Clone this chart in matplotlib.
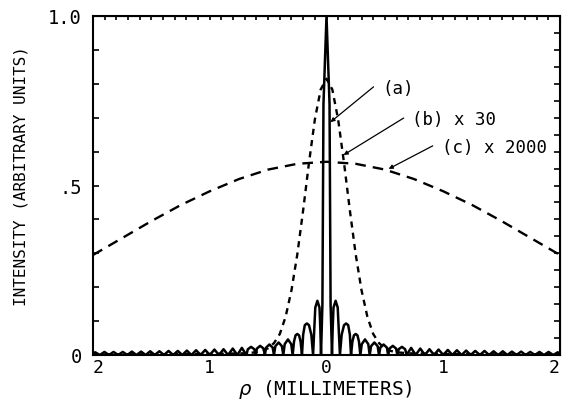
import numpy as np
import matplotlib
matplotlib.use("Agg")
import matplotlib.pyplot as plt

# Curve (a): for rho >= 0 (the plot is symmetric)
rho_a_half = [0.000, 0.010, 0.026, 0.031, 0.035, 0.047,
              0.053, 0.060, 0.078, 0.096, 0.104, 0.115,
              0.130, 0.150, 0.168, 0.186, 0.200, 0.210,
              0.222, 0.235, 0.250, 0.265, 0.278, 0.290,
              0.302, 0.330, 0.358, 0.370,
              0.382, 0.410, 0.438, 0.450,
              0.461, 0.489, 0.517, 0.528,
              0.539, 0.568, 0.596, 0.607,
              0.618, 0.646, 0.674, 0.686,
              0.725, 0.764, 0.803, 0.843, 0.882, 0.921, 0.960, 1.000,
              1.039, 1.078, 1.117, 1.157, 1.196, 1.235, 1.274, 1.314,
              1.353, 1.392, 1.431, 1.471, 1.510, 1.549, 1.588, 1.628,
              1.667, 1.706, 1.745, 1.785, 1.824, 1.863, 1.902, 1.942,
              1.981, 2.020]
int_a_half = [1.000, 0.900, 0.740, 0.420, 0.150, 0.000,
              0.080, 0.140, 0.160, 0.140, 0.080, 0.000,
              0.060, 0.088, 0.093, 0.088, 0.060, 0.000,
              0.040, 0.058, 0.062, 0.058, 0.040, 0.000,
              0.032, 0.046, 0.032, 0.000,
              0.026, 0.037, 0.026, 0.000,
              0.022, 0.031, 0.022, 0.000,
              0.019, 0.027, 0.019, 0.000,
              0.017, 0.024, 0.017, 0.000,
              0.021, 0.000, 0.019, 0.000, 0.017, 0.000, 0.016, 0.000,
              0.015, 0.000, 0.014, 0.000, 0.013, 0.000, 0.012, 0.000,
              0.012, 0.000, 0.011, 0.000, 0.011, 0.000, 0.010, 0.000,
              0.010, 0.000, 0.009, 0.000, 0.009, 0.000, 0.009, 0.000,
              0.008, 0.000]

# Curve (b) x 30
rho_b_half = [0.00, 0.05, 0.10, 0.15, 0.20, 0.25, 0.30, 0.35, 0.40,
              0.45, 0.50, 0.55, 0.60, 0.70, 1.00, 1.50, 2.00]
int_b_half = [0.815, 0.783, 0.694, 0.567, 0.427, 0.297, 0.191, 0.113, 0.062,
              0.035, 0.020, 0.012, 0.008, 0.005, 0.003, 0.002, 0.002]

# Curve (c) x 2000
rho_c_half = [0.00, 0.25, 0.50, 0.75, 1.00, 1.25, 1.50, 1.75, 2.00]
int_c_half = [0.570, 0.564, 0.547, 0.519, 0.483, 0.442, 0.395, 0.345, 0.295]

x_ticks = [-2, -1, 0, 1, 2]
x_tick_labels = ["2", "1", "0", "1", "2"]
y_ticks = [0, 0.5, 1.0]
y_tick_labels = ["0", ".5", "1.0"]


def mirror(rho, val):
    rho = np.asarray(rho)
    val = np.asarray(val)
    return (np.concatenate([-rho[::-1], rho[1:]]),
            np.concatenate([val[::-1], val[1:]]))


plt.rcParams["font.family"] = ["DejaVu Sans Mono", "DejaVu Sans"]
plt.rcParams["mathtext.fontset"] = "dejavusans"

fig = plt.figure(figsize=(5.63, 4.02), dpi=100)
ax = fig.add_axes([93 / 563, 1 - 356 / 402, 467 / 563, 339 / 402])

ra, ia = mirror(rho_a_half, int_a_half)
rb, ib = mirror(rho_b_half, int_b_half)
rc, ic = mirror(rho_c_half, int_c_half)

ax.plot(rc, ic, color="black", lw=1.7, dashes=(4.5, 3))
ax.plot(rb, ib, color="black", lw=1.7, dashes=(2.6, 2.2))
ax.plot(ra, ia, color="black", lw=1.8, solid_joinstyle="round")

ax.set_xlim(-2, 2)
ax.set_ylim(0, 1.0)
for s in ax.spines.values():
    s.set_linewidth(1.5)

ax.set_xticks(x_ticks)
ax.set_xticklabels(x_tick_labels)
ax.set_yticks(y_ticks)
ax.set_yticklabels(y_tick_labels)
ax.set_yticks(np.arange(0, 1.001, 0.1), minor=True)
ax.tick_params(axis="x", which="both", length=0, pad=2, labelsize=13)
ax.tick_params(axis="y", which="both", direction="in", length=4.5,
               width=1.2, pad=8, labelsize=13.5)
xlabels = ax.get_xticklabels()
xlabels[0].set_ha("left")
xlabels[-1].set_ha("right")

# right side: finer ticks; top side: ticks every 0.1 mm
sec_r = ax.secondary_yaxis("right")
sec_r.set_yticks(np.arange(0, 1.001, 0.05))
sec_r.tick_params(direction="in", length=4, width=1.2, labelright=False)
sec_t = ax.secondary_xaxis("top")
sec_t.set_xticks(np.arange(-2, 2.001, 0.1))
sec_t.tick_params(direction="in", length=3, width=1.2, labeltop=False)

ax.set_xlabel(r"$\rho$ (MILLIMETERS)", fontsize=14)
ax.xaxis.set_label_coords(0.497, -0.1)
ax.xaxis.label.set_va("center")
ax.set_ylabel("INTENSITY (ARBITRARY UNITS)", fontsize=11.5)
ax.yaxis.set_label_coords(-0.154, 0.53)
ax.yaxis.label.set_va("center")

arrow = dict(arrowstyle="-|>", color="black", lw=0.9,
             mutation_scale=6, shrinkA=0, shrinkB=0)
ax.annotate("", xy=(0.034, 0.687), xytext=(0.403, 0.791), arrowprops=arrow)
ax.annotate("", xy=(0.146, 0.590), xytext=(0.661, 0.699), arrowprops=arrow)
ax.annotate("", xy=(0.532, 0.549), xytext=(0.910, 0.617), arrowprops=arrow)
ax.text(0.48, 0.788, "(a)", fontsize=12.5, va="center", ha="left")
ax.text(0.73, 0.696, "(b) x 30", fontsize=12.5, va="center", ha="left")
ax.text(0.99, 0.614, "(c) x 2000", fontsize=12.5, va="center", ha="left")

fig.savefig("out.png", dpi=100)
